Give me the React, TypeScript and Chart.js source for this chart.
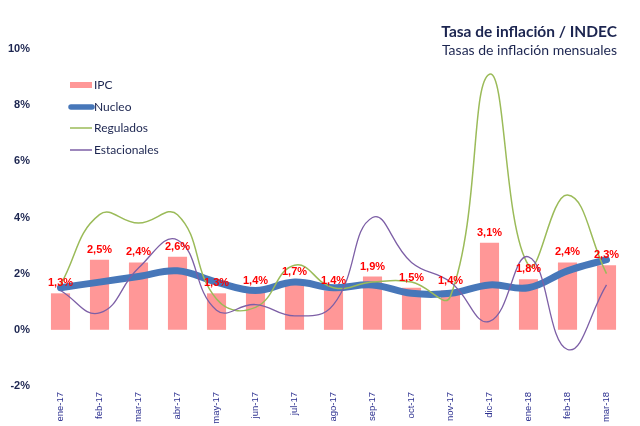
import React, { useEffect, useRef } from "react";
import { Chart, registerables } from "chart.js";

Chart.register(...registerables);

const categories = [
  "ene-17", "feb-17", "mar-17", "abr-17", "may-17", "jun-17", "jul-17", "ago-17",
  "sep-17", "oct-17", "nov-17", "dic-17", "ene-18", "feb-18", "mar-18",
];
const ipc = [1.3, 2.5, 2.4, 2.6, 1.3, 1.4, 1.7, 1.4, 1.9, 1.5, 1.4, 3.1, 1.8, 2.4, 2.3];
const nucleo = [1.5, 1.7, 1.9, 2.1, 1.7, 1.4, 1.7, 1.5, 1.6, 1.3, 1.3, 1.6, 1.5, 2.1, 2.5];
const regulados = [1.6, 4.1, 3.8, 4.1, 1.1, 0.8, 2.3, 1.5, 1.7, 1.7, 1.2, 9.1, 2.3, 4.8, 2.0];
const estacionales = [1.4, 0.6, 2.2, 3.2, 0.7, 0.9, 0.5, 0.9, 4.0, 2.4, 1.7, 0.3, 2.6, -0.7, 1.6];
const seriesNames = ["IPC", "Nucleo", "Regulados", "Estacionales"];
const titleText = "Tasa de inflación / INDEC";
const subtitleText = "Tasas de inflación mensuales";

const C_IPC = "#FF9797";
const C_NUC = "#4777B9";
const C_REG = "#9BBB59";
const C_EST = "#7D5FA6";
const NAVY = "#1C2550";
const SANS = '"Liberation Sans", Arial, sans-serif';
const HUMAN = 'Lato, "Open Sans", sans-serif';

const fmt = (v: number) => v.toFixed(1).replace(".", ",") + "%";

const decorPlugin = {
  id: "decor",
  afterDatasetsDraw(chart: any) {
    const ctx = chart.ctx as CanvasRenderingContext2D;
    const meta = chart.getDatasetMeta(0);
    ctx.save();
    ctx.font = `bold 11px ${SANS}`;
    ctx.fillStyle = "#FF0000";
    ctx.textAlign = "center";
    ctx.textBaseline = "middle";
    meta.data.forEach((el: any, i: number) => {
      ctx.fillText(fmt(ipc[i]), el.x, el.y - 10);
    });
    ctx.restore();
  },
  afterDraw(chart: any) {
    const ctx = chart.ctx as CanvasRenderingContext2D;
    ctx.save();
    ctx.fillStyle = NAVY;
    ctx.textAlign = "right";
    ctx.textBaseline = "alphabetic";
    ctx.font = `bold 15.5px ${HUMAN}`;
    ctx.fillText(titleText, 617, 37);
    ctx.font = `14px ${HUMAN}`;
    ctx.fillText(subtitleText, 617, 55);

    const x0 = 70, x1 = 92;
    const rows = [85, 107, 128, 150];
    ctx.fillStyle = C_IPC;
    ctx.fillRect(x0, rows[0] - 3, x1 - x0, 6);
    ctx.lineCap = "round";
    ctx.strokeStyle = C_NUC;
    ctx.lineWidth = 5.5;
    ctx.beginPath();
    ctx.moveTo(x0 + 1, rows[1]);
    ctx.lineTo(x1, rows[1]);
    ctx.stroke();
    ctx.lineCap = "butt";
    ctx.lineWidth = 1.5;
    ctx.strokeStyle = C_REG;
    ctx.beginPath();
    ctx.moveTo(x0, rows[2]);
    ctx.lineTo(x1, rows[2]);
    ctx.stroke();
    ctx.strokeStyle = C_EST;
    ctx.beginPath();
    ctx.moveTo(x0, rows[3]);
    ctx.lineTo(x1, rows[3]);
    ctx.stroke();
    ctx.fillStyle = NAVY;
    ctx.textAlign = "left";
    ctx.textBaseline = "middle";
    ctx.font = `12px ${HUMAN}`;
    seriesNames.forEach((n, i) => ctx.fillText(n, 94, rows[i]));
    ctx.restore();
  },
};

export default function App() {
  const ref = useRef<HTMLCanvasElement | null>(null);
  useEffect(() => {
    if (!ref.current) return;
    const chart = new Chart(ref.current, {
      type: "bar",
      data: {
        labels: categories,
        datasets: [
          {
            type: "bar",
            label: seriesNames[0],
            data: ipc,
            backgroundColor: C_IPC,
            borderWidth: 0,
            categoryPercentage: 1,
            barPercentage: 0.49,
            order: 5,
          } as any,
          {
            type: "line",
            label: seriesNames[1],
            data: nucleo,
            borderColor: C_NUC,
            borderWidth: 7,
            borderCapStyle: "round",
            borderJoinStyle: "round",
            pointRadius: 0,
            tension: 0.4,
            fill: false,
            order: 3,
          },
          {
            type: "line",
            label: seriesNames[2],
            data: regulados,
            borderColor: C_REG,
            borderWidth: 1.5,
            pointRadius: 0,
            tension: 0.45,
            fill: false,
            order: 2,
          },
          {
            type: "line",
            label: seriesNames[3],
            data: estacionales,
            borderColor: C_EST,
            borderWidth: 1.3,
            pointRadius: 0,
            tension: 0.45,
            fill: false,
            order: 1,
          },
        ],
      },
      options: {
        animation: false,
        responsive: true,
        maintainAspectRatio: false,
        layout: { padding: { top: 49, right: 14, left: 0, bottom: 0 } },
        plugins: {
          legend: { display: false },
          tooltip: { enabled: false },
          title: { display: false },
        },
        scales: {
          x: {
            grid: { display: false, drawTicks: false },
            border: { display: false },
            ticks: {
              autoSkip: false,
              maxRotation: 90,
              minRotation: 90,
              padding: 6,
              color: "#2B2F8F",
              font: { size: 9.5, family: SANS },
            },
            afterFit(s: any) {
              s.height = 40;
            },
          },
          y: {
            min: -2,
            max: 10,
            grid: { display: false, drawTicks: false },
            border: { display: false },
            ticks: {
              stepSize: 2,
              padding: 11,
              color: NAVY,
              font: { size: 11, weight: "bold", family: SANS },
              callback: (v: any) => v + "%",
            },
            afterFit(s: any) {
              s.width = 41;
            },
          },
        },
      },
      plugins: [decorPlugin],
    } as any);
    return () => chart.destroy();
  }, []);
  return (
    <div style={{ position: "absolute", left: 0, top: 0, width: 640, height: 426, background: "#fff" }}>
      <canvas ref={ref} />
    </div>
  );
}
